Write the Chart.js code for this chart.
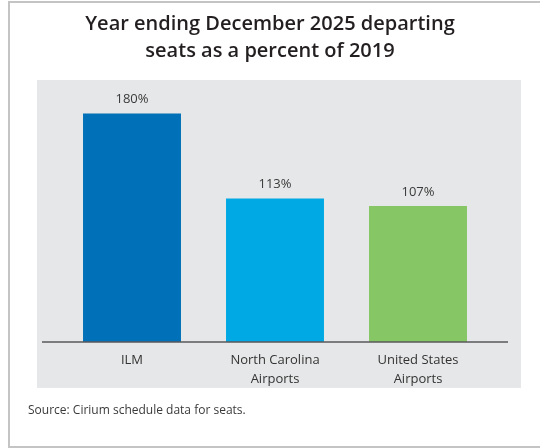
<!DOCTYPE html>
<html>
<head>
<meta charset="utf-8">
<script src="https://cdn.jsdelivr.net/npm/chart.js@4.4.1/dist/chart.umd.min.js"></script>
<style>
  html, body { margin: 0; padding: 0; background: #ffffff; }
  #wrap { width: 540px; height: 448px; position: relative; }
</style>
</head>
<body>
<div id="wrap"><canvas id="c" width="540" height="448"></canvas></div>
<script>
const categories = [["ILM"], ["North Carolina", "Airports"], ["United States", "Airports"]];
const values = [180, 113, 107];
const valueLabels = ["180%", "113%", "107%"];
const barColors = ["#0070b8", "#00a9e4", "#86c665"];
const titleLines = ["Year ending December 2025 departing", "seats as a percent of 2019"];
const sourceNote = "Source: Cirium schedule data for seats.";

const FONT = "'Open Sans', 'Noto Sans', sans-serif";

const decor = {
  id: 'decor',
  beforeDraw(chart) {
    const ctx = chart.ctx;
    const a = chart.chartArea;
    ctx.save();
    // outer frame
    ctx.strokeStyle = '#c4c4c4';
    ctx.lineWidth = 2;
    ctx.beginPath();
    ctx.moveTo(9, 448);
    ctx.lineTo(9, 2);
    ctx.lineTo(541, 2);
    ctx.stroke();
    ctx.beginPath();
    ctx.moveTo(9, 447);
    ctx.lineTo(541, 447);
    ctx.stroke();
    // grey panel
    ctx.fillStyle = '#e6e7e8';
    ctx.fillRect(a.left - 23.5, a.top - 8, (a.right + 31.5) - (a.left - 23.5), (a.bottom + 46) - (a.top - 8));
    ctx.restore();
  },
  afterDatasetsDraw(chart) {
    const ctx = chart.ctx;
    const a = chart.chartArea;
    const y0 = chart.scales.y.getPixelForValue(0);
    ctx.save();
    ctx.strokeStyle = '#58595b';
    ctx.lineWidth = 1.5;
    ctx.beginPath();
    ctx.moveTo(a.left - 18.5, y0);
    ctx.lineTo(a.right + 18.5, y0);
    ctx.stroke();
    // value labels
    const meta = chart.getDatasetMeta(0);
    ctx.fillStyle = '#3a3a3a';
    ctx.font = "13px " + FONT;
    ctx.textAlign = 'center';
    ctx.textBaseline = 'middle';
    meta.data.forEach((bar, i) => {
      ctx.fillText(valueLabels[i], bar.x, bar.y - 14);
    });
    ctx.restore();
  }
};

new Chart(document.getElementById('c'), {
  type: 'bar',
  data: {
    labels: categories,
    datasets: [{
      data: values,
      backgroundColor: barColors,
      borderWidth: 0,
      barPercentage: 0.685,
      categoryPercentage: 1.0
    }]
  },
  options: {
    responsive: false,
    animation: false,
    devicePixelRatio: 1,
    layout: { padding: { top: 11, left: 28, right: 28, bottom: 30 } },
    plugins: {
      legend: { display: false },
      tooltip: { enabled: false },
      title: {
        display: true,
        text: titleLines,
        color: '#231f20',
        font: { family: FONT, size: 20, weight: '600', lineHeight: 1.35 },
        padding: { top: 0, bottom: 23 }
      },
      subtitle: {
        display: true,
        position: 'bottom',
        align: 'start',
        text: sourceNote,
        color: '#3a3a3a',
        font: { family: FONT, size: 12, lineHeight: 1.2 },
        padding: { top: 15, bottom: 0 }
      }
    },
    scales: {
      x: {
        grid: { display: false, drawTicks: false },
        border: { display: false },
        ticks: {
          color: '#333333',
          font: { family: FONT, size: 13, lineHeight: 1.45 },
          padding: 9,
          maxRotation: 0,
          autoSkip: false
        },
        afterFit(scale) { scale.height = 46.7; }
      },
      y: {
        min: 0,
        max: 200,
        grid: { display: false, drawTicks: false },
        border: { display: false },
        ticks: { display: false },
        afterFit(scale) { scale.width = 32.5; }
      },
      y2: {
        position: 'right',
        min: 0,
        max: 200,
        grid: { display: false, drawTicks: false },
        border: { display: false },
        ticks: { display: false },
        afterFit(scale) { scale.width = 22.5; }
      }
    }
  },
  plugins: [decor]
});
</script>
</body>
</html>
